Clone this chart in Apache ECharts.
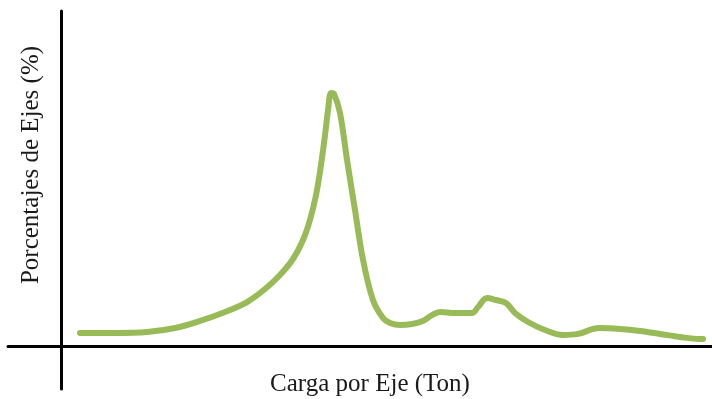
<!DOCTYPE html>
<html>
<head>
<meta charset="utf-8">
<script src="https://cdn.jsdelivr.net/npm/echarts@6/dist/echarts.min.js"></script>
<style>
html,body{margin:0;padding:0;background:#fff;}
#c{width:712px;height:399px;}
</style>
</head>
<body>
<div id="c"></div>
<script>
// Carga por eje (Ton)
var cargas = [1.46,4.15,6.61,8.76,10.68,12.60,14.29,15.67,16.82,17.82,18.59,19.12,19.59,19.97,20.28,20.51,20.74,20.97,21.43,21.97,22.58,23.20,23.96,24.73,25.27,26.04,26.96,27.80,28.49,29.11,30.26,31.57,32.03,32.72,33.41,34.18,34.87,35.87,37.17,38.56,39.71,41.32,42.93,44.47,46.01,47.54,49.08,49.31];
// Porcentaje de ejes (%)
var porcentajes = [0.97,0.97,1.04,1.34,1.87,2.54,3.28,4.25,5.30,6.49,7.91,9.40,11.27,13.51,15.75,17.61,18.88,18.81,17.39,13.88,10.15,6.42,3.43,2.09,1.72,1.57,1.64,1.87,2.31,2.54,2.46,2.46,2.91,3.58,3.43,3.21,2.46,1.79,1.19,0.82,0.90,1.34,1.27,1.12,0.90,0.67,0.52,0.52];
var xTitle = "Carga por Eje (Ton)";
var yTitle = "Porcentajes de Ejes (%)";

var chart = echarts.init(document.getElementById('c'), null, {renderer:'canvas'});
var pts = cargas.map(function(x,i){return [x, porcentajes[i]];});
chart.setOption({
  animation:false,
  backgroundColor:'#fff',
  grid:{left:8,right:0,top:11,bottom:10},
  xAxis:{type:'value',min:-4.07,max:50,
    axisLine:{show:true,onZero:true,lineStyle:{color:'#000',width:3}},
    axisTick:{show:false},axisLabel:{show:false},splitLine:{show:false}},
  yAxis:{type:'value',min:-3.21,max:25,
    axisLine:{show:true,onZero:true,lineStyle:{color:'#000',width:3}},
    axisTick:{show:false},axisLabel:{show:false},splitLine:{show:false}},
  graphic:[
    {type:'text',x:370,y:384,style:{text:xTitle,font:'25px "Liberation Serif", serif',fill:'#1a1a1a',textAlign:'center',textVerticalAlign:'middle'}},
    {type:'text',x:31,y:165,rotation:Math.PI/2,style:{text:yTitle,font:'25px "Liberation Serif", serif',fill:'#1a1a1a',textAlign:'center',textVerticalAlign:'middle'}}
  ],
  series:[{type:'line',data:pts,smooth:0.35,symbol:'none',
    lineStyle:{color:'#98bb58',width:6,cap:'round',join:'round'}}]
});
</script>
</body>
</html>
